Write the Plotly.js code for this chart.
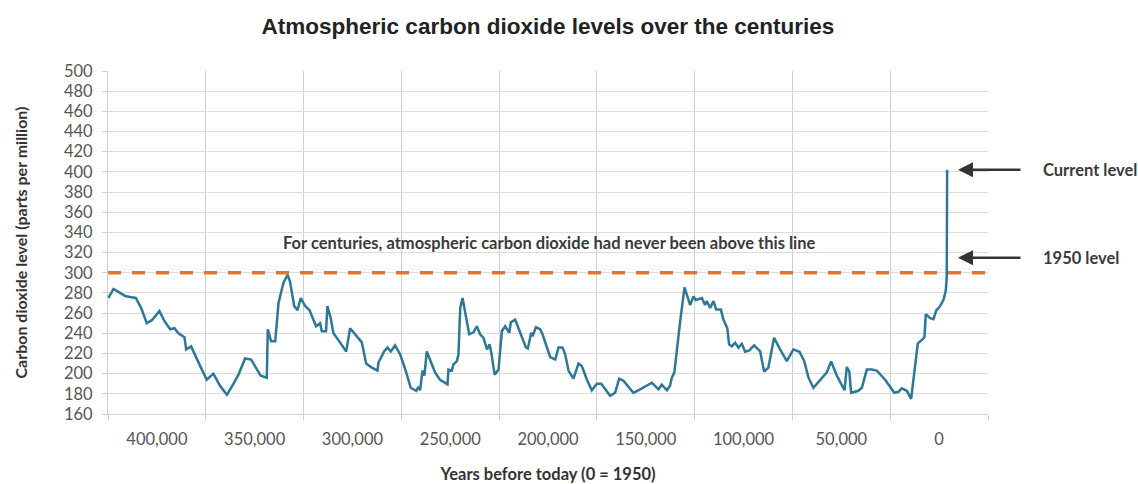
<!DOCTYPE html>
<html>
<head>
<meta charset="utf-8">
<script src="https://cdn.plot.ly/plotly-3.0.1.min.js"></script>
<style>html,body{margin:0;padding:0;background:#fff;}#chart{width:1138px;height:484px;}</style>
</head>
<body>
<div id="chart"></div>
<script>
// Years before today (0 = 1950)
const years = [
 424800, 422200, 418800, 416200, 413700, 410800, 408000, 405200, 402600, 398700,
 396100, 393200, 391000, 389000, 385900, 385000, 382500, 379600, 377000, 374500,
 371100, 367700, 364200, 360800, 358300, 354900, 351800, 349400, 346900, 343800,
 343300, 341600, 339500, 337800, 335300, 333200, 331900, 329800, 328100, 326400,
 324200, 322000, 318600, 316500, 315700, 313500, 312800, 311100, 309700, 306700,
 303200, 301200, 298600, 295200, 293000, 290100, 287200, 286700, 283800, 282100,
 280400, 278200, 275600, 273100, 270200, 267400, 266200, 265400, 264200, 263200,
 262000, 259400, 257700, 255200, 251400, 250900, 249200, 248400, 246600, 245800,
 244900, 243700, 242400, 240300, 238100, 236400, 234700, 233000, 231200, 229900,
 229000, 227300, 225300, 223600, 221900, 219800, 219000, 216800, 214200, 211300,
 210300, 208600, 207900, 206200, 204000, 202800, 198900, 196300, 194600, 192600,
 191200, 189500, 187000, 184400, 182700, 180100, 177600, 175000, 172800, 168200,
 165700, 163600, 161400, 158900, 156300, 152900, 149500, 146900, 143500, 141800,
 139200, 137600, 136700, 135400, 132400, 130200, 127300, 125600, 124400, 121300,
 119700, 118800, 117100, 115400, 114000, 111600, 110300, 108300, 107400, 106000,
 104300, 102600, 100900, 99200, 97000, 94600, 91500, 89500, 87300, 84400,
 81300, 77900, 74500, 71400, 69000, 66800, 64300, 60900, 57500, 55200,
 52300, 48400, 47200, 45900, 45000, 41300, 39500, 37000, 34400, 31900,
 27600, 22900, 20800, 19100, 16500, 14300, 12300, 10900, 8500, 7500,
 6800, 4600, 2900, 1500, -500, -2200, -3400, -3900, -4100
];
// CO2 level (parts per million)
const co2 = [
 275, 284, 280, 277, 276, 275, 265, 250, 253, 262,
 252, 244, 245, 240, 236, 224, 227, 214, 204, 194,
 200, 188, 179, 190, 199, 215, 214, 206, 198, 196,
 244, 232, 232, 270, 290, 298, 291, 267, 263, 275,
 267, 263, 247, 250, 242, 242, 267, 255, 240, 232,
 222, 245, 239, 231, 210, 206, 203, 211, 222, 226,
 222, 228, 219, 205, 186, 183, 187, 183.5, 203, 198,
 222, 209, 201, 194, 189.5, 204, 203, 209, 212.5, 219,
 265, 275, 262, 239, 241, 247, 239, 235.5, 224, 229,
 221, 199, 204, 242, 247, 240.5, 251, 253.6, 240.5, 226,
 225, 240.5, 237, 246, 244, 239, 216.5, 214, 226, 226,
 219, 203, 195, 210, 207.6, 194, 183.5, 190, 190, 178,
 181, 195, 193, 187, 181, 184.5, 188, 191, 184.5, 189,
 183.5, 188, 196, 201, 252, 285.5, 268, 276.6, 273, 275,
 268, 272, 265, 272, 263.5, 263.5, 253.6, 245, 229, 227,
 230.6, 225.7, 229.6, 221.7, 223, 228, 222, 202, 206, 235.5,
 224, 212.5, 224, 221.7, 212.5, 196, 186, 193, 201, 212,
 198, 183.5, 206.6, 202, 181, 183, 186, 204, 204, 203,
 194, 181, 182, 185.5, 183, 175, 208, 230, 234, 236,
 259, 255, 254, 262.5, 267, 273, 282, 295, 402
];
const tickYears = [400000, 350000, 300000, 250000, 200000, 150000, 100000, 50000, 0];
const tickLabels = ["400,000", "350,000", "300,000", "250,000", "200,000", "150,000", "100,000", "50,000", "0"];
const threshold = 300;
const currentLevel = 402;
const level1950 = 315;

const trace = {
  x: years, y: co2, type: 'scatter', mode: 'lines',
  line: {color: '#2c7896', width: 2.5},
  hoverinfo: 'x+y', showlegend: false
};

const annFont = {family: 'Lato', size: 16.5, color: '#3a3a3a', weight: 'bold'};
const layout = {
  width: 1138, height: 484,
  margin: {l: 108, r: 150, t: 71, b: 70},
  paper_bgcolor: '#ffffff', plot_bgcolor: '#ffffff',
  title: {
    text: 'Atmospheric carbon dioxide levels over the centuries',
    font: {family: 'Liberation Sans', size: 22.5, color: '#222', weight: 'bold'},
    x: 0.4815, xref: 'container', xanchor: 'center',
    y: 1 - 26/484, yref: 'container', yanchor: 'middle'
  },
  xaxis: {
    range: [425000, -25000],
    tickmode: 'array', tickvals: tickYears, ticktext: tickLabels,
    ticks: '', showgrid: false, zeroline: false, ticklabelstandoff: 10,
    showline: true, linecolor: '#d4d4d4', linewidth: 1,
    tickfont: {family: 'Lato', size: 16.5, color: '#555'},
    minor: {tick0: 25000, dtick: 50000, showgrid: true, gridcolor: '#cfcfcf', gridwidth: 1,
            ticks: 'outside', ticklen: 5, tickcolor: '#cfcfcf'},
    title: {text: 'Years before today (0 = 1950)', standoff: 28,
            font: {family: 'Lato', size: 16.5, color: '#333', weight: 'bold'}}
  },
  yaxis: {
    range: [160, 500], dtick: 20, tick0: 160,
    showgrid: true, gridcolor: '#dcdcdc', gridwidth: 1, zeroline: false,
    showline: true, linecolor: '#cfcfcf', linewidth: 1,
    ticks: 'outside', ticklen: 5, tickcolor: '#cfcfcf', ticklabelstandoff: 6,
    tickfont: {family: 'Lato', size: 16.5, color: '#555'},
    title: {text: 'Carbon dioxide level (parts per million)', standoff: 32,
            font: {family: 'Lato', size: 16, color: '#333', weight: 'bold'}}
  },
  shapes: [{
    type: 'line', xref: 'paper', x0: 0, x1: 1, yref: 'y', y0: threshold, y1: threshold,
    line: {color: '#e0762f', width: 3.5, dash: '13px,11px'}, layer: 'above'
  }],
  annotations: [
    {text: 'For centuries, atmospheric carbon dioxide had never been above this line',
     xref: 'paper', x: 0.501, yref: 'paper', y: (414-243)/343, xanchor: 'center', yanchor: 'middle',
     showarrow: false, font: annFont},
    {text: '', xref: 'paper', x: (958-108)/880, yref: 'y', y: currentLevel,
     showarrow: true, ax: 64, ay: 0, arrowhead: 2, arrowsize: 1.2, arrowwidth: 2.5, arrowcolor: '#333'},
    {text: '', xref: 'paper', x: (958-108)/880, yref: 'y', y: level1950,
     showarrow: true, ax: 64, ay: 0, arrowhead: 2, arrowsize: 1.2, arrowwidth: 2.5, arrowcolor: '#333'},
    {text: 'Current level', xref: 'paper', x: (1041-108)/880, yref: 'y', y: currentLevel,
     xanchor: 'left', yanchor: 'middle', showarrow: false, font: annFont},
    {text: '1950 level', xref: 'paper', x: (1041-108)/880, yref: 'y', y: level1950,
     xanchor: 'left', yanchor: 'middle', showarrow: false, font: annFont}
  ]
};

Plotly.newPlot('chart', [trace], layout, {displayModeBar: false, staticPlot: true});
</script>
</body>
</html>
